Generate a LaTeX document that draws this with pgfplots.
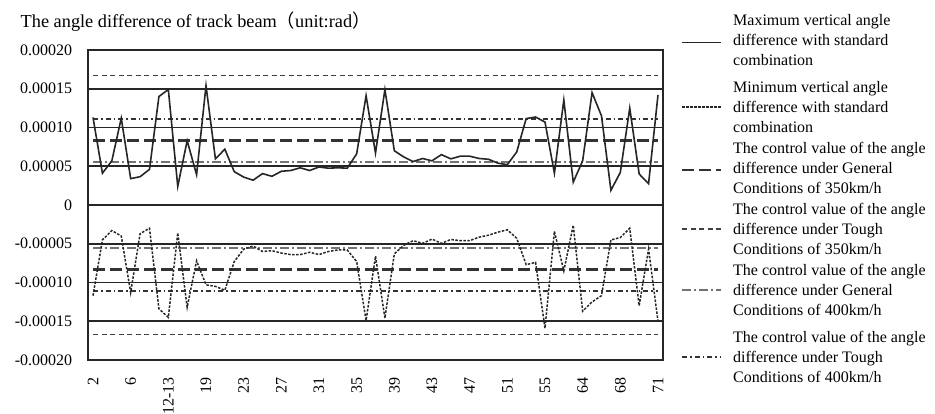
\documentclass[border=0pt]{standalone}
\usepackage{pgfplots}
\pgfplotsset{compat=1.18}
\usepackage{pgfplotstable}
\usepackage{fontspec}
\setmainfont{Liberation Serif}
\newfontfamily\cjk{Noto Sans CJK SC}
\newcommand\fs{\fontsize{16}{20}\selectfont}
\newcommand\fst{\fontsize{18.3}{22}\selectfont}

\pgfplotstableread{
i maxv minv
0 0.0001130 -0.0001170
1 0.0000410 -0.0000450
2 0.0000570 -0.0000330
3 0.0001120 -0.0000400
4 0.0000340 -0.0001130
5 0.0000365 -0.0000370
6 0.0000460 -0.0000300
7 0.0001400 -0.0001340
8 0.0001490 -0.0001450
9 0.0000240 -0.0000360
10 0.0000830 -0.0001320
11 0.0000390 -0.0000720
12 0.0001540 -0.0001030
13 0.0000595 -0.0001050
14 0.0000720 -0.0001100
15 0.0000430 -0.0000730
16 0.0000360 -0.0000570
17 0.0000320 -0.0000530
18 0.0000405 -0.0000600
19 0.0000370 -0.0000590
20 0.0000435 -0.0000620
21 0.0000445 -0.0000640
22 0.0000480 -0.0000640
23 0.0000445 -0.0000610
24 0.0000490 -0.0000640
25 0.0000475 -0.0000600
26 0.0000480 -0.0000580
27 0.0000475 -0.0000580
28 0.0000660 -0.0000730
29 0.0001410 -0.0001490
30 0.0000670 -0.0000660
31 0.0001490 -0.0001460
32 0.0000700 -0.0000630
33 0.0000620 -0.0000520
34 0.0000560 -0.0000460
35 0.0000600 -0.0000495
36 0.0000570 -0.0000440
37 0.0000650 -0.0000495
38 0.0000595 -0.0000445
39 0.0000630 -0.0000460
40 0.0000630 -0.0000460
41 0.0000600 -0.0000415
42 0.0000590 -0.0000390
43 0.0000540 -0.0000350
44 0.0000520 -0.0000320
45 0.0000685 -0.0000430
46 0.0001115 -0.0000770
47 0.0001135 -0.0000740
48 0.0001070 -0.0001590
49 0.0000410 -0.0000340
50 0.0001355 -0.0000850
51 0.0000295 -0.0000260
52 0.0000570 -0.0001370
53 0.0001450 -0.0001250
54 0.0001150 -0.0001170
55 0.0000190 -0.0000450
56 0.0000420 -0.0000420
57 0.0001250 -0.0000300
58 0.0000400 -0.0001300
59 0.0000275 -0.0000570
60 0.0001420 -0.0001500
}\datatab

\tikzset{
 maxst/.style={black!85, line width=1.6pt},
 minst/.style={black!85, line width=1.5pt, dash pattern=on 2.5pt off 1.5pt},
 gthreefifty/.style={black!80, line width=2.2pt, dash pattern=on 12pt off 5pt},
 tthreefifty/.style={black!75, line width=1.3pt, dash pattern=on 5pt off 3.5pt},
 gfourhundred/.style={black!55, line width=1.8pt, dash pattern=on 9pt off 3pt on 2pt off 3pt},
 tfourhundred/.style={black!80, line width=1.3pt, dash pattern=on 5pt off 3pt on 1.5pt off 3pt},
}

\begin{document}
\begin{tikzpicture}
\path[use as bounding box] (0pt,0pt) rectangle (935pt,414pt);
\begin{axis}[
 at={(88.3pt,54pt)}, anchor=south west,
 scale only axis, width=574.4pt, height=310pt,
 xmin=-0.5, xmax=60.5, ymin=-0.0002, ymax=0.0002,
 xtick={0,4,...,60},
 xticklabels={2,6,12-13,19,23,27,31,35,39,43,47,51,55,64,68,71},
 ytick={-0.0002,-0.00015,-0.0001,-0.00005,0,0.00005,0.0001,0.00015,0.0002},
 yticklabels={-0.00020,-0.00015,-0.00010,-0.00005,0,0.00005,0.00010,0.00015,0.00020},
 scaled y ticks=false,
 major tick length=0pt,
 ymajorgrids, major grid style={black!85, line width=1.6pt},
 axis line style={black!85, line width=2pt},
 xticklabel style={font=\fs, inner sep=0pt, yshift=-17pt, rotate=90, anchor=east},
 yticklabel style={font=\fs, inner sep=0pt, anchor=east, xshift=-16pt},
]
\addplot[tthreefifty] coordinates {(0,0.0001667) (60,0.0001667)};
\addplot[tthreefifty] coordinates {(0,-0.0001667) (60,-0.0001667)};
\addplot[tfourhundred] coordinates {(0,0.0001111) (60,0.0001111)};
\addplot[tfourhundred] coordinates {(0,-0.0001111) (60,-0.0001111)};
\addplot[gthreefifty] coordinates {(0,0.0000833) (60,0.0000833)};
\addplot[gthreefifty] coordinates {(0,-0.0000833) (60,-0.0000833)};
\addplot[gfourhundred] coordinates {(0,0.0000556) (60,0.0000556)};
\addplot[gfourhundred] coordinates {(0,-0.0000556) (60,-0.0000556)};
\addplot[maxst] table[x=i,y=maxv]{\datatab};
\addplot[minst] table[x=i,y=minv]{\datatab};
\end{axis}

\node[anchor=base west, font=\fst, inner sep=0pt] at (20.5pt,386.3pt)
  {The angle difference of track beam{\cjk （}unit:rad{\cjk ）}};

% legend
\draw[maxst] (682pt,371.3pt) -- (721pt,371.3pt);
\node[anchor=west, align=left, font=\fs, inner sep=0pt] at (733pt,374pt)
  {Maximum vertical angle\\difference with standard\\combination};
\draw[minst] (682pt,307pt) -- (721pt,307pt);
\node[anchor=west, align=left, font=\fs, inner sep=0pt] at (733pt,307pt)
  {Minimum vertical angle\\difference with standard\\combination};
\draw[gthreefifty] (682pt,244pt) -- (721pt,244pt);
\node[anchor=west, align=left, font=\fs, inner sep=0pt] at (733pt,246pt)
  {The control value of the angle\\difference under General\\Conditions of 350km/h};
\draw[tthreefifty] (682pt,185pt) -- (721pt,185pt);
\node[anchor=west, align=left, font=\fs, inner sep=0pt] at (733pt,185pt)
  {The control value of the angle\\difference under Tough\\Conditions of 350km/h};
\draw[gfourhundred] (682pt,124pt) -- (721pt,124pt);
\node[anchor=west, align=left, font=\fs, inner sep=0pt] at (733pt,124pt)
  {The control value of the angle\\difference under General\\Conditions of 400km/h};
\draw[tfourhundred] (682pt,57pt) -- (721pt,57pt);
\node[anchor=west, align=left, font=\fs, inner sep=0pt] at (733pt,57pt)
  {The control value of the angle\\difference under Tough\\Conditions of 400km/h};
\end{tikzpicture}
\end{document}
